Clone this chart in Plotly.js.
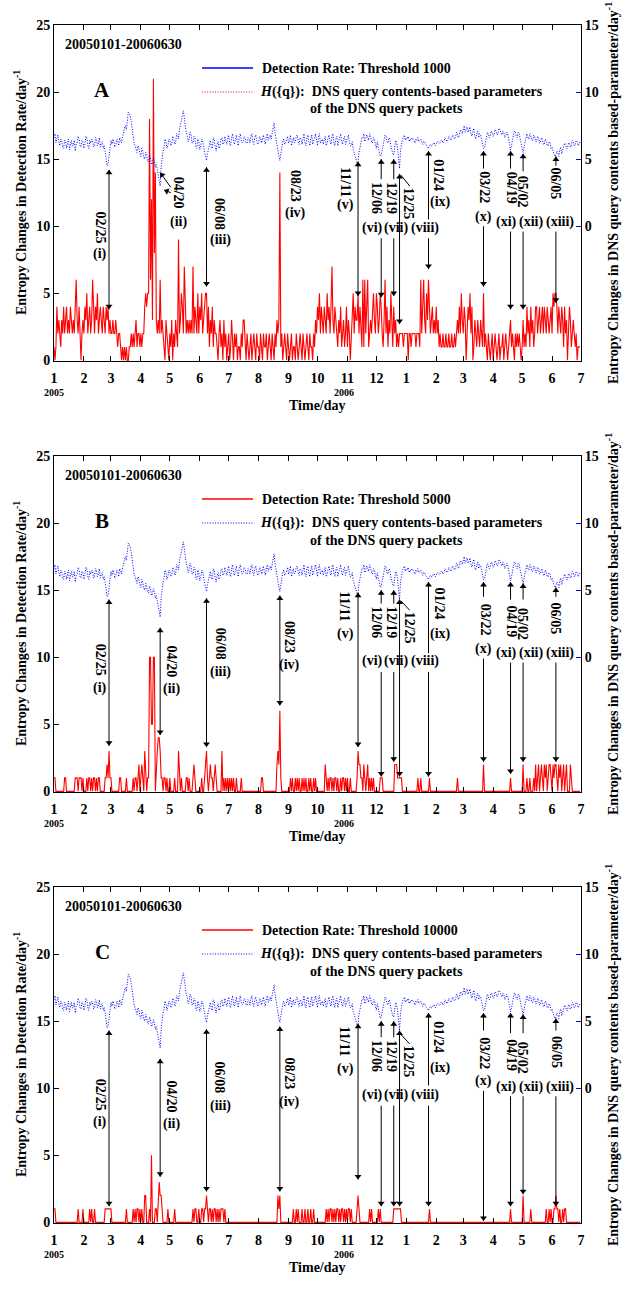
<!DOCTYPE html>
<html><head><meta charset="utf-8">
<script src="https://cdn.plot.ly/plotly-3.0.1.min.js"></script>
<style>html,body{margin:0;padding:0;background:#fff}#chart{width:626px;height:1289px}</style>
</head><body><div id="chart"></div>
<script>
// ---------- data ----------
const monthDays = [0,31,59,90,120,151,181,212,243,273,304,334,365,396,424,455,485,516,546];
const monthLabels = ['1','2','3','4','5','6','7','8','9','10','11','12','1','2','3','4','5','6','7'];
const yearDays = [0,300];
const yearLabels = ['2005','2006'];
const panelLetters = ['A','B','C'];
const thresholds = ['1000','5000','10000'];
const dateRangeText = '20050101-20060630';

// daily detection-rate entropy changes (left axis), day 0 = 2005-01-01
const redA = [
1,0,1,4,2,3,2,1,3,2,4,2,3,4,2,3,2,4,3,2,
3,2,4,6,3,2,4,1,0,2,3,2,4,3,5,2,3,4,2,3,
6,3,2,4,3,5,2,3,4,3,2,4,3,2,4,3,4,2,3,2,
2,3,2,2,3,2,1,2,2,1,0,1,0,1,0,1,0,0,1,1,
2,1,2,1,2,3,1,2,2,1,2,1,2,2,4,5,4,5,5,18,
6,12,3,21,8,14,3,2,3,2,6,2,3,2,1,0,3,2,1,0,
2,1,3,0,2,1,3,2,1,9,2,3,5,4,2,7,3,2,3,2,
3,2,3,2,7,2,4,3,2,5,2,4,3,5,2,3,4,5,5,2,
4,1,3,2,4,1,3,2,2,1,0,2,3,1,2,0,3,1,2,0,
1,2,0,1,3,1,0,2,1,2,0,1,1,0,2,1,3,3,1,0,
2,1,0,1,2,0,1,2,1,0,2,1,1,0,2,1,0,2,1,1,
2,0,1,2,1,0,2,1,0,2,1,3,2,3,14,1,2,0,1,2,
1,0,2,1,0,1,2,0,1,1,0,2,1,0,1,2,1,0,2,1,
0,1,2,1,0,2,1,1,0,2,1,3,2,4,3,5,2,4,3,2,
4,3,2,5,3,4,2,4,7,3,2,4,3,2,1,3,2,4,1,2,
3,1,2,4,1,3,2,0,2,3,5,2,4,3,3,5,2,4,2,1,
6,1,6,2,4,6,1,2,3,2,4,5,3,2,5,4,2,3,5,4,
2,1,3,6,2,4,1,3,2,5,3,1,4,2,3,1,2,1,2,2,
2,2,1,2,2,2,2,0,2,2,1,2,2,2,2,1,2,2,2,1,
6,2,4,6,3,2,5,3,6,4,2,3,4,2,3,2,4,2,3,1,
2,1,1,2,1,1,2,1,1,2,1,1,2,1,1,2,1,2,3,2,
4,2,5,3,2,4,3,0,2,4,3,5,2,4,0,1,3,2,1,3,
2,1,3,2,1,5,1,2,1,0,2,1,0,1,2,0,1,2,1,0,
1,2,0,1,1,2,0,1,2,1,0,1,2,3,1,2,1,0,2,1,
2,1,2,1,0,1,3,1,2,1,4,2,3,1,4,2,3,1,2,4,
4,2,3,4,2,3,4,2,4,3,2,4,3,2,3,4,2,5,4,5,
5,4,2,4,3,2,4,3,1,4,2,3,0,2,4,3,1,2,3,2,1,2,0,1,1,1];

const redB = [
1,1,0,0,0,0,0,0,0,0,0,1,1,0,0,0,0,0,0,0,
0,0,1,1,1,0,1,1,1,0,1,0,0,0,1,0,1,1,0,1,
0,1,1,0,1,0,1,1,0,0,0,0,0,1,1,2,1,3,1,1,
0,0,0,0,0,0,0,0,1,1,0,0,0,0,0,1,0,0,0,0,
0,0,1,0,1,1,0,1,2,0,1,2,1,0,3,1,0,1,1,10,
10,5,5,10,10,0,2,3,4,4,3,1,1,0,1,1,0,1,0,0,
1,0,0,0,0,1,0,0,0,3,1,0,1,0,0,0,0,1,1,0,
1,0,0,0,1,2,1,0,0,0,0,0,0,1,0,0,1,2,3,1,
0,1,2,1,1,0,1,2,1,0,0,0,0,0,3,0,1,0,1,0,
1,0,1,0,1,0,1,0,0,1,0,0,0,0,1,0,0,0,0,0,
0,0,0,0,0,0,0,0,0,0,0,0,0,0,0,1,1,0,0,0,
0,0,0,0,0,0,0,0,0,0,0,2,3,2,6,1,0,0,0,0,
0,0,0,0,0,1,0,1,0,0,1,0,1,0,1,0,0,1,0,1,
0,1,0,0,1,0,1,0,0,1,0,1,0,0,0,0,0,0,0,0,
0,2,1,0,1,0,1,1,0,1,0,1,1,0,1,0,0,1,0,1,
1,0,1,0,1,0,0,1,0,0,0,0,0,0,1,3,2,2,1,1,
0,2,1,0,1,2,0,1,0,1,0,1,0,0,0,0,0,0,1,1,
1,0,0,0,0,0,0,0,0,0,0,0,0,2,2,2,1,1,1,1,
1,0,0,0,0,0,0,0,0,0,0,0,0,0,0,0,0,1,0,0,
1,0,0,0,0,0,0,0,0,1,0,0,0,0,0,0,0,0,0,0,
0,0,0,0,0,0,0,0,0,0,0,0,0,0,0,0,0,0,1,0,
0,0,0,0,0,0,0,0,0,0,0,0,0,0,0,0,0,0,0,0,
0,0,0,0,0,2,0,0,0,0,0,0,0,0,0,0,0,0,0,0,
0,0,0,0,0,0,0,0,0,0,0,0,0,1,0,0,0,0,0,0,
0,0,0,0,0,0,2,0,0,0,1,0,0,1,0,0,0,1,0,2,
0,1,2,0,1,2,1,0,2,1,2,0,1,2,2,1,0,2,1,2,
2,1,0,2,1,2,0,1,2,0,1,2,0,0,0,2,1,0,0,0,0,0,0,0,0,0];

const redC = [
1,1,0,0,0,0,0,0,0,0,0,0,0,0,0,0,0,0,0,0,
0,0,0,0,0,1,0,0,0,0,1,0,0,0,0,0,0,1,0,1,
0,0,1,0,0,0,0,0,0,0,0,0,0,1,1,1,1,1,1,1,
0,0,0,0,0,0,0,0,0,0,0,0,0,0,0,1,0,0,0,0,
0,0,1,0,1,0,1,1,0,1,0,1,0,0,2,2,0,0,0,1,
0,5,0,0,0,1,1,0,2,3,2,2,1,0,0,0,0,0,1,0,
0,0,0,0,0,1,0,0,0,0,0,0,0,0,0,0,0,0,0,0,
0,0,0,0,1,0,1,1,0,0,1,0,0,1,1,0,1,1,2,1,
0,1,1,0,1,0,1,1,0,1,0,1,0,1,1,1,0,1,0,0,
0,0,0,0,0,0,0,0,0,0,0,0,0,0,0,0,0,0,0,0,
0,0,0,0,0,0,0,0,0,0,0,0,0,0,0,0,0,0,0,0,
0,0,0,0,0,0,0,0,0,0,0,0,2,1,2,0,0,0,0,0,
0,0,0,0,0,0,0,0,1,0,0,1,0,1,0,0,0,1,0,0,
1,0,0,1,0,0,1,0,0,1,0,0,0,0,0,0,0,0,0,0,
0,0,1,0,1,0,1,1,0,1,0,1,0,1,1,0,1,0,1,1,
0,1,0,1,0,1,1,0,1,0,0,0,0,0,1,2,1,0,0,0,
0,0,0,0,0,0,0,1,0,1,0,0,0,0,0,0,1,0,1,0,
0,0,0,0,0,0,0,0,0,0,0,0,1,1,1,1,1,1,1,1,
0,0,0,0,0,0,0,0,0,0,0,0,0,0,0,0,0,0,0,0,
0,0,0,0,0,0,0,0,0,1,0,0,0,0,0,0,0,0,0,0,
0,0,0,0,0,0,0,0,0,0,0,0,0,0,0,0,0,0,0,0,
0,0,0,0,0,0,0,0,0,0,0,0,0,0,0,0,0,0,0,0,
0,0,0,0,0,0,0,0,0,0,0,0,0,0,0,0,0,0,0,0,
0,0,0,0,0,0,0,0,0,0,0,0,0,1,0,0,0,0,0,0,
0,0,0,0,0,0,2,0,0,0,0,0,0,0,1,0,0,0,0,0,
0,0,0,0,0,0,0,0,0,0,1,0,0,1,0,1,0,0,1,1,
2,1,1,0,1,0,0,1,0,1,1,0,0,0,0,0,0,0,0,0,0,0,0,0,0,0];

// daily H({q}) entropy (right axis)
const blueH = [
6.6,6.9,6.2,6.5,6.8,6.3,6.0,6.5,6.4,5.9,5.8,6.4,6.3,5.8,6.1,6.5,5.7,6.2,6.4,6.0,
6.0,6.4,5.6,6.1,6.2,6.7,6.5,6.0,5.9,6.4,6.3,5.8,6.1,6.7,6.6,6.0,5.8,6.4,6.2,6.5,
6.4,5.9,6.0,6.6,6.5,6.0,6.2,6.6,5.9,6.2,6.3,5.8,6.0,5.6,5.2,4.5,4.6,5.3,5.8,6.4,
6.1,6.5,6.3,5.9,6.0,6.5,6.4,6.0,6.6,6.3,6.2,6.7,6.9,7.3,7.5,7.2,8.0,8.5,8.4,8.2,
7.8,7.2,6.8,6.2,6.0,5.6,5.5,6.0,5.8,5.4,5.2,5.8,5.6,5.1,5.0,5.5,5.3,4.8,4.8,5.3,
5.1,4.6,4.7,5.1,4.9,4.4,4.6,4.2,3.8,3.2,3.0,4.4,5.2,5.6,5.9,6.5,6.3,5.8,6.0,6.5,
6.4,6.0,6.1,6.7,6.6,6.1,6.2,6.9,6.8,6.5,7.2,7.6,8.0,8.3,8.6,8.1,7.4,7.0,6.8,6.3,
6.5,7.0,6.8,6.2,6.2,6.7,6.6,5.9,5.8,6.5,6.3,5.7,5.9,6.5,6.4,5.8,5.6,5.2,4.9,5.4,
5.7,6.2,6.4,5.9,5.8,6.6,6.5,5.9,5.6,6.1,6.3,5.8,6.0,6.5,6.6,6.1,6.2,6.7,6.4,6.1,
6.5,6.8,6.2,6.0,6.6,6.9,6.3,6.1,6.5,6.8,6.2,6.0,6.7,6.9,6.4,6.2,6.3,6.7,6.6,6.2,
6.2,6.6,6.5,6.2,6.7,6.9,6.3,6.1,6.6,6.8,6.4,6.1,6.2,6.7,6.6,6.2,6.5,6.8,6.3,6.1,
6.7,6.9,6.4,6.6,6.8,6.5,7.0,7.3,7.7,7.0,6.5,6.0,5.6,5.2,4.9,5.4,5.8,6.3,6.5,6.1,
6.2,6.6,6.7,6.2,6.4,6.8,6.0,6.3,6.6,6.2,6.3,6.7,6.8,6.3,6.1,6.6,6.5,6.1,6.7,6.9,
6.2,6.0,6.6,6.8,6.3,6.0,6.5,6.8,6.1,6.3,6.6,6.9,6.3,6.0,6.7,6.9,6.2,6.4,6.5,6.1,
6.4,6.7,6.0,6.2,6.6,6.8,6.3,6.1,6.7,6.9,6.2,6.0,6.5,6.7,6.0,6.3,6.6,6.9,6.3,6.1,
6.5,6.7,6.1,6.3,6.6,6.8,6.3,6.0,6.0,6.3,5.7,5.5,5.3,5.0,4.7,4.8,5.5,6.0,6.2,6.6,
6.6,6.9,6.3,6.5,6.8,6.6,6.4,6.9,6.7,6.3,6.2,6.6,6.5,6.1,5.8,6.3,5.9,5.6,5.2,5.3,
5.6,6.1,6.4,6.8,6.7,6.3,6.2,6.6,6.5,6.0,5.6,5.4,5.3,5.9,6.4,6.2,5.8,5.0,4.3,5.6,
6.2,6.5,6.6,6.8,6.4,6.6,6.5,6.7,6.3,6.5,6.4,6.6,6.5,6.3,6.2,6.5,6.4,6.6,6.3,6.4,
6.5,6.3,6.1,6.3,6.3,6.1,6.0,5.9,5.8,6.0,6.1,6.0,6.0,6.2,6.2,6.0,6.1,6.3,6.3,6.2,
6.2,6.4,6.4,6.2,6.3,6.6,6.5,6.3,6.4,6.7,6.6,6.4,6.5,6.8,6.7,6.5,6.6,7.0,6.9,6.6,
6.8,7.2,7.1,6.9,7.3,7.5,7.0,7.2,7.4,7.0,7.2,7.4,6.9,6.7,7.1,7.3,6.7,6.5,6.9,7.1,
6.6,6.9,6.8,6.5,6.2,5.8,5.8,6.3,6.6,7.0,6.9,6.6,6.7,7.1,7.0,6.7,6.8,7.2,7.1,6.8,
6.9,7.3,7.2,6.9,6.8,7.1,7.0,6.6,6.7,7.0,6.9,6.5,5.9,5.7,6.0,6.5,6.8,7.1,7.0,6.7,
6.6,7.0,6.9,6.5,6.1,5.7,5.5,5.9,6.3,6.7,6.9,6.6,6.5,6.9,6.8,6.4,6.4,6.8,6.7,6.3,
6.3,6.7,6.6,6.2,6.2,6.6,6.5,6.1,6.1,6.5,6.4,6.0,6.0,6.3,6.2,5.8,5.9,5.6,5.4,5.2,
5.3,5.6,5.5,5.2,5.7,5.9,5.4,5.6,5.9,6.2,6.1,5.8,5.8,6.2,6.2,5.9,6.0,6.4,6.3,6.0,6.1,6.4,6.3,6.0,6.2,6.3];

const redSeries = [redA, redB, redC];

// ---------- event labels (text, day, left-axis value) ----------
const labelsA = [
 ['02/25',47.7,9.9],['(i)',47.7,7.9],['04/20',128.5,12.5],['(ii)',128.5,10.3],
 ['06/08',172,10.9],['(iii)',172,9.0],['08/23',249.7,13.0],['(iv)',249.7,11.0],
 ['11/11',301.5,13.3],['(v)',301.5,11.6],['12/06',334.6,12.1],['(vi)',329.5,9.9],
 ['12/19',350.2,12.1],['(vii)',354.3,9.9],['12/25',367.8,11.7],['(viii)',384.4,9.9],
 ['01/24',398.9,13.8],['(ix)',400,11.8],['03/22',446.5,12.9],['(x)',444.5,10.7],
 ['04/19',474,12.9],['(xi)',469,10.3],['05/02',485.5,12.6],['(xii)',494,10.3],
 ['06/05',520,13.2],['(xiii)',524,10.3]];
const labelsB = [
 ['02/25',47.7,9.8],['(i)',47.7,7.7],['04/20',122,9.7],['(ii)',122,7.6],
 ['06/08',172,11.0],['(iii)',172,8.9],['08/23',244.5,11.5],['(iv)',244.5,9.4],
 ['11/11',301.5,13.8],['(v)',301.5,11.7],['12/06',334.6,12.6],['(vi)',329.5,9.7],
 ['12/19',350.2,12.6],['(vii)',354.3,9.7],['12/25',367.8,12.2],['(viii)',384.4,9.7],
 ['01/24',398.9,14.0],['(ix)',400,11.7],['03/22',446.5,12.8],['(x)',444.5,10.6],
 ['04/19',474,12.7],['(xi)',469,10.3],['05/02',485.5,12.5],['(xii)',494,10.3],
 ['06/05',520,12.9],['(xiii)',524,10.3]];
const labelsC = [
 ['02/25',47.7,9.5],['(i)',47.7,7.5],['04/20',122,9.4],['(ii)',122,7.3],
 ['06/08',172,10.8],['(iii)',172,8.7],['08/23',244.5,11.1],['(iv)',244.5,9.0],
 ['11/11',301.5,13.5],['(v)',301.5,11.4],['12/06',334.6,12.4],['(vi)',329.5,9.5],
 ['12/19',350.2,12.4],['(vii)',354.3,9.5],['12/25',367.8,12.0],['(viii)',384.4,9.5],
 ['01/24',398.9,13.8],['(ix)',400,11.5],['03/22',446.5,12.6],['(x)',444.5,10.5],
 ['04/19',474,12.5],['(xi)',469,10.1],['05/02',485.5,12.3],['(xii)',494,10.1],
 ['06/05',520,12.7],['(xiii)',524,10.1]];
// arrows: [tailDay, tailVal, headDay, headVal, heads]
const arrowsA = [
 [57,14.2,57,3.8,'both'],[121,12.9,110,14.0,'end'],[121,12.5,114,12.7,'end'],
 [158,14.4,158,5.5,'both'],[315,14.8,315,4.8,'both'],
 [339,13.5,339,15.0,'end'],[339,9.1,339,4.7,'end'],
 [352,13.5,352,15.0,'end'],[352,9.1,352,4.8,'end'],
 [358,13.9,358,2.7,'both'],[368.5,13.0,359.5,13.8,'none'],
 [388,10.5,388,15.6,'end'],[388,9.1,388,6.8,'end'],
 [445,14.3,445,15.6,'end'],[445,10.0,445,5.5,'end'],
 [473,14.3,473,15.6,'end'],[473,9.6,473,3.8,'end'],
 [486,14.1,486,15.4,'end'],[486,9.6,486,3.8,'end'],
 [520,14.5,520,15.2,'end'],[520,9.6,520,4.3,'end']];
const arrowsB = [
 [57,14.3,57,3.4,'both'],[110,12.2,110,4.2,'both'],[158,14.4,158,3.3,'both'],
 [234,14.6,234,6.4,'both'],[315,14.8,315,3.3,'both'],
 [339,14.0,339,15.0,'end'],[339,8.9,339,1.1,'end'],
 [352,14.0,352,15.0,'end'],[352,8.9,352,2.2,'end'],
 [358,14.3,358,1.1,'both'],[368.5,13.5,359.5,14.2,'none'],
 [388,10.3,388,15.6,'end'],[388,8.9,388,1.1,'end'],
 [445,14.5,445,15.6,'end'],[445,9.9,445,2.2,'end'],
 [473,14.3,473,15.6,'end'],[473,9.6,473,1.3,'end'],
 [486,14.3,486,15.5,'end'],[486,9.6,486,2.2,'end'],
 [520,14.5,520,15.2,'end'],[520,9.6,520,2.2,'end']];
const arrowsC = [
 [57,14.3,57,1.2,'both'],[110,12.2,110,3.4,'both'],[158,14.4,158,2.3,'both'],
 [234,14.6,234,2.3,'both'],[315,14.8,315,3.2,'both'],
 [339,13.8,339,15.0,'end'],[339,8.7,339,1.2,'end'],
 [352,13.8,352,15.0,'end'],[352,8.7,352,1.2,'end'],
 [358,14.3,358,1.2,'both'],[368.5,13.3,359.5,14.0,'none'],
 [388,10.2,388,15.6,'end'],[388,8.7,388,1.2,'end'],
 [445,14.3,445,15.6,'end'],[445,9.8,445,0.1,'end'],
 [473,14.1,473,15.6,'end'],[473,9.4,473,1.2,'end'],
 [486,14.1,486,15.5,'end'],[486,9.4,486,2.1,'end'],
 [520,14.3,520,15.2,'end'],[520,9.4,520,1.2,'end']];
const labelSets = [labelsA, labelsB, labelsC];
const arrowSets = [arrowsA, arrowsB, arrowsC];

// ---------- layout ----------
const W = 626, HT = 1289;
const PL = 54, PR = 581, PH = 336;
const TOPS = [25, 456, 887];
const XR = [0, 546], YR = [-0.05, 25];
const PXD = (PR - PL) / (XR[1] - XR[0]), PXU = PH / (YR[1] - YR[0]);
const FONT = 'Liberation Serif, Times New Roman, serif';
const BLUE = '#0000ff', RED = '#ff0000', DOT = '1px,1.6px';
const xp = p => p / W, yp = p => 1 - p / HT;
const bf = (s, c) => ({family: FONT, size: s, color: c || '#000', weight: 'bold'});

const days = redA.map((_, i) => i);
const blueDays = blueH.map((_, i) => i);

const data = [], annotations = [], shapes = [];
const layout = {
  width: W, height: HT, margin: {l: 0, r: 0, t: 0, b: 0},
  paper_bgcolor: '#fff', plot_bgcolor: '#fff', showlegend: false,
  font: {family: FONT, color: '#000'}
};

for (let k = 0; k < 3; k++) {
  const xid = k === 0 ? 'x' : 'x' + (k + 1);
  const yLn = 2 * k + 1, yRn = 2 * k + 2;
  const yLid = yLn === 1 ? 'y' : 'y' + yLn, yRid = 'y' + yRn;
  const T = TOPS[k], B = T + PH;
  layout[k === 0 ? 'xaxis' : 'xaxis' + (k + 1)] = {
    domain: [xp(PL), xp(PR)], anchor: yLid, range: XR,
    tickmode: 'array', tickvals: monthDays, ticktext: monthLabels,
    ticks: 'inside', ticklen: 5, tickcolor: '#000', showline: true, linecolor: '#000', linewidth: 1,
    mirror: 'ticks', showgrid: false, zeroline: false, tickfont: bf(14), ticklabelstandoff: 4,
    fixedrange: true
  };
  layout[yLn === 1 ? 'yaxis' : 'yaxis' + yLn] = {
    domain: [yp(B), yp(T)], anchor: xid, range: YR,
    tickmode: 'array', tickvals: [0, 5, 10, 15, 20, 25],
    ticks: 'inside', ticklen: 5, tickcolor: '#000', showline: true, linecolor: '#000', linewidth: 1,
    showgrid: false, zeroline: false, tickfont: bf(14), fixedrange: true
  };
  layout['yaxis' + yRn] = {
    overlaying: yLid, anchor: xid, side: 'right', range: [YR[0] - 10, YR[1] - 10],
    tickmode: 'array', tickvals: [0, 5, 10, 15],
    ticks: 'inside', ticklen: 5, tickcolor: BLUE, showline: true, linecolor: '#000', linewidth: 1,
    showgrid: false, zeroline: false, tickfont: bf(14), fixedrange: true
  };
  data.push({x: blueDays, y: blueH, xaxis: xid, yaxis: yRid, type: 'scatter', mode: 'lines',
             line: {color: BLUE, width: 1, dash: DOT}, hoverinfo: 'skip'});
  data.push({x: days, y: redSeries[k], xaxis: xid, yaxis: yLid, type: 'scatter', mode: 'lines',
             line: {color: RED, width: 1.1}, hoverinfo: 'skip'});

  labelSets[k].forEach(([t, d, v]) => {
    annotations.push({xref: xid, yref: yLid, x: d, y: v, text: t, showarrow: false,
      textangle: t.indexOf('/') >= 0 ? 90 : 0, font: bf(14), xanchor: 'center', yanchor: 'middle'});
  });

  // arrows: shaft as shape, heads as triangle markers
  const hx = [], hy = [], ha = [];
  const addHead = (xt, yt, xf, yf) => {
    const dx = (xt - xf) * PXD, dy = (yt - yf) * PXU;
    const len = Math.hypot(dx, dy) || 1;
    const back = 3;
    hx.push(xt - dx / len * back / PXD);
    hy.push(yt - dy / len * back / PXU);
    ha.push(Math.atan2(dx, dy) * 180 / Math.PI);
  };
  arrowSets[k].forEach(([d0, v0, d1, v1, h]) => {
    shapes.push({type: 'line', xref: xid, yref: yLid, x0: d0, y0: v0, x1: d1, y1: v1,
                 line: {color: '#000', width: 1}});
    if (h !== 'none') addHead(d1, v1, d0, v0);
    if (h === 'both') addHead(d0, v0, d1, v1);
  });
  data.push({x: hx, y: hy, xaxis: xid, yaxis: yLid, type: 'scatter', mode: 'markers', cliponaxis: false,
             marker: {symbol: 'triangle-up', size: 6, color: '#000', angle: ha, line: {width: 0}},
             hoverinfo: 'skip'});

  // legend block
  const l1c = k === 0 ? BLUE : RED;
  const l2c = k === 0 ? RED : BLUE;
  shapes.push({type: 'line', xref: 'paper', yref: 'paper', x0: xp(202), x1: xp(253), y0: yp(T + 43), y1: yp(T + 43),
               line: {color: l1c, width: 1.5}});
  shapes.push({type: 'line', xref: 'paper', yref: 'paper', x0: xp(202), x1: xp(253), y0: yp(T + 67), y1: yp(T + 67),
               line: {color: l2c, width: 1, dash: DOT}});
  annotations.push({xref: 'paper', yref: 'paper', x: xp(260), y: yp(T + 43), xanchor: 'left', yanchor: 'middle',
    text: 'Detection Rate: Threshold ' + thresholds[k], showarrow: false, font: bf(14)});
  annotations.push({xref: 'paper', yref: 'paper', x: xp(258), y: yp(T + 67), xanchor: 'left', yanchor: 'middle',
    text: '<i>H</i>({q}):\u00a0 DNS query contents-based parameters', showarrow: false, font: bf(14)});
  annotations.push({xref: 'paper', yref: 'paper', x: xp(308), y: yp(T + 84), xanchor: 'left', yanchor: 'middle',
    text: 'of the DNS query packets', showarrow: false, font: bf(14)});
  annotations.push({xref: 'paper', yref: 'paper', x: xp(63), y: yp(T + 19), xanchor: 'left', yanchor: 'middle',
    text: dateRangeText, showarrow: false, font: bf(14)});
  annotations.push({xref: 'paper', yref: 'paper', x: xp(102), y: yp(T + 65), xanchor: 'center', yanchor: 'middle',
    text: panelLetters[k], showarrow: false, font: bf(21)});
  annotations.push({xref: 'paper', yref: 'paper', x: xp(20), y: yp(T + PH / 2), xanchor: 'center', yanchor: 'middle',
    textangle: -90, text: 'Entropy Changes in Detection Rate/day<sup>-1</sup>', showarrow: false, font: bf(14)});
  annotations.push({xref: 'paper', yref: 'paper', x: xp(612), y: yp(T + PH / 2), xanchor: 'center', yanchor: 'middle',
    textangle: -90, text: 'Entropy Changes in DNS query contents based-parameter/day<sup>-1</sup>', showarrow: false, font: bf(14)});
  annotations.push({xref: 'paper', yref: 'paper', x: xp((PL + PR) / 2), y: yp(B + 44), xanchor: 'center', yanchor: 'middle',
    text: 'Time/day', showarrow: false, font: bf(14)});
  yearDays.forEach((d, i) => {
    annotations.push({xref: xid, yref: 'paper', x: d, y: yp(B + 31), xanchor: 'center', yanchor: 'middle',
      text: yearLabels[i], showarrow: false, font: bf(10)});
  });
}
layout.annotations = annotations;
layout.shapes = shapes;
Plotly.newPlot('chart', data, layout, {displayModeBar: false, staticPlot: true});
</script></body></html>
